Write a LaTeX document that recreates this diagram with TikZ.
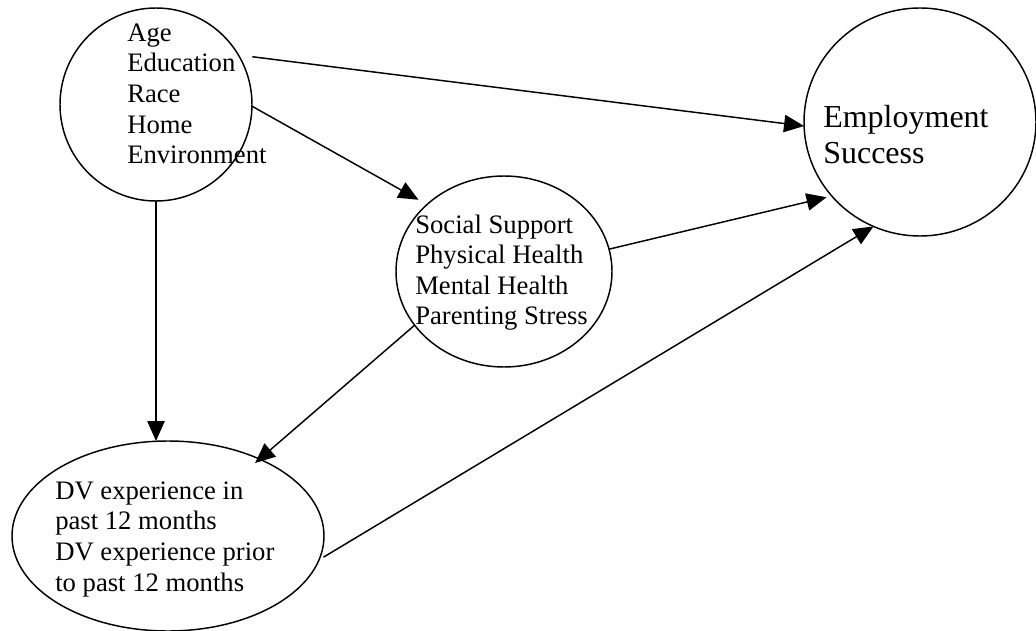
\documentclass[tikz,border=0pt]{standalone}
\usepackage{fontspec}
\setmainfont{Liberation Serif}
\usetikzlibrary{shapes.geometric,arrows.meta}

\tikzset{
  kreis/.style={draw, ellipse, line width=1.1pt, inner sep=0pt, outer sep=0pt},
  txt/.style={anchor=base west, inner sep=0pt, align=left, font=\fontsize{20}{23}\selectfont},
  pfeil/.style={line width=1.1pt, -{Triangle[length=15pt,width=13pt]}}
}

\begin{document}
\begin{tikzpicture}[x=0.75pt,y=-0.75pt]
  \useasboundingbox (0,0) rectangle (1036,631);
  % Kreise
  \node[kreis, minimum width=144pt, minimum height=144.75pt] (demo) at (156,104.5) {};
  \node[kreis, minimum width=174pt, minimum height=171pt] (emp) at (920,122) {};
  \node[kreis, minimum width=162pt, minimum height=143.25pt] (soc) at (504,271.5) {};
  \node[kreis, minimum width=234pt, minimum height=142.5pt] (dv) at (168,536) {};
  % Texte (Anker = Grundlinie der letzten Zeile)
  \node[txt] (demotxt) at (127,164) {Age\\Education\\Race\\Home\\Environment};
  \node[txt, font=\fontsize{24}{27.6}\selectfont] (emptxt) at (823,164) {Employment\\Success};
  \node[txt] (soctxt) at (415,325) {Social Support\\Physical Health\\Mental Health\\Parenting Stress};
  \node[txt] (dvtxt) at (55,591) {DV experience in\\past 12 months\\DV experience prior\\to past 12 months};
  % Pfeile
  \draw[pfeil, shorten <=10.5pt] (demo.31) -- (emp.182);
  \draw[pfeil, shorten >=7.3pt] (demo.-1) -- (soc.139);
  \draw[pfeil] (demo.south) -- (demo.south |- dv.north);
  \draw[pfeil, shorten >=-4.5pt] (soc.211) -- (dv.40);
  \draw[pfeil, shorten >=4pt] (soc.12) -- (emp.220);
  \draw[pfeil, shorten <=4pt] (dv.-9) -- (emp.246);
\end{tikzpicture}
\end{document}
